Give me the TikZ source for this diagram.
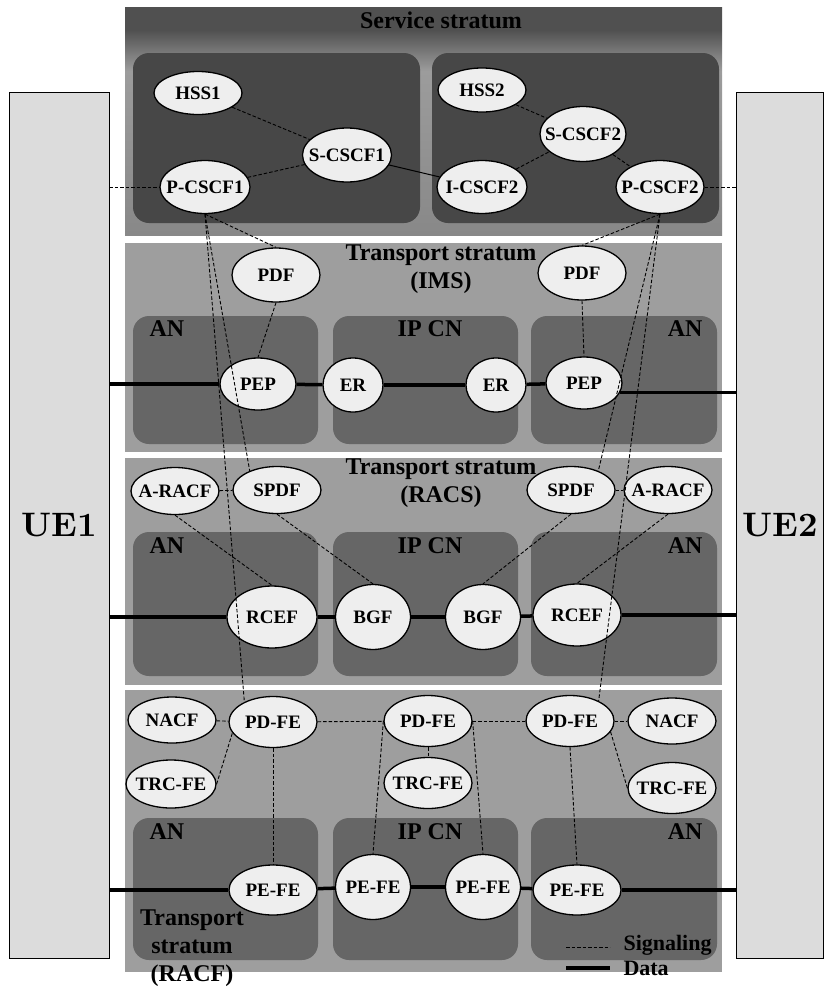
\documentclass[tikz,border=0pt]{standalone}
\usepackage{fontspec}
\setmainfont{Liberation Serif}
\newfontfamily\uefont{lmroman10-bold.otf}
\usetikzlibrary{shapes.geometric,positioning}
\definecolor{svctop}{RGB}{80,80,80}
\definecolor{svclight}{RGB}{156,156,156}
\definecolor{svcbot}{RGB}{136,136,136}
\definecolor{svcbox}{RGB}{71,71,71}
\definecolor{trpanel}{RGB}{158,158,158}
\definecolor{trbox}{RGB}{102,102,102}
\definecolor{fefill}{RGB}{238,238,238}
\definecolor{uefill}{RGB}{220,220,220}
\pgfdeclareverticalshading{svcshade}{100bp}{color(0bp)=(svcbot); color(25bp)=(svcbot); color(61bp)=(svclight); color(70bp)=(svctop); color(100bp)=(svctop)}

\begin{document}
\begin{tikzpicture}[x=1pt, y=-1pt,
  fe/.style={ellipse, draw=black, line width=1.3pt, fill=fefill, inner sep=-15pt,
    minimum width=88pt, minimum height=50pt, font=\fontsize{19}{21}\selectfont\bfseries},
  ue/.style={rectangle, draw=black, line width=0.8pt, fill=uefill, minimum width=100pt,
    minimum height=866pt, font=\fontsize{34}{36}\selectfont\uefont},
  inbox/.style={rounded corners=16pt},
  ttl/.style={align=center, font=\fontsize{24}{28}\selectfont\bfseries},
  boxlbl/.style={font=\fontsize{24}{28}\selectfont\bfseries},
  legtxt/.style={anchor=west, font=\fontsize{22}{24}\selectfont\bfseries},
  sig/.style={dash pattern=on 3.5pt off 2pt, line width=0.9pt},
  data/.style={line width=3.5pt},
  ctrl/.style={line width=1pt}]
\useasboundingbox (0,0) rectangle (830,988);

% strata
\shade[shading=svcshade] (125,7) rectangle (722,235);
\fill[svcbox, inbox] (133,53) rectangle (420,223);
\fill[svcbox, inbox] (432,53) rectangle (719,223);
\foreach \ptop/\pbot/\btop/\bbot in {243/452/316/444, 458/685/532/676, 690/972/818/960} {
  \fill[trpanel] (125,\ptop) rectangle (722,\pbot);
  \foreach \l/\r in {133/318, 333/518, 531/717}
    \fill[trbox, inbox] (\l,\btop) rectangle (\r,\bbot);
}

% titles and labels
\node[ttl] (svcttl) at (441,20) {Service stratum};
\node[ttl] (imsttl) at (441,269) {Transport stratum\\(IMS)};
\node[ttl] (racsttl) at (441,483) {Transport stratum\\(RACS)};
\node[ttl] (racfttl) at (192,948) {Transport\\stratum\\(RACF)};
\node[boxlbl, anchor=west] (anla) at (146,329) {AN};
\node[boxlbl] (ipcna) at (430,329) {IP CN};
\node[boxlbl, anchor=east] (anra) at (706,329) {AN};
\node[boxlbl, anchor=west] (anlb) at (146,546) {AN};
\node[boxlbl] (ipcnb) at (430,546) {IP CN};
\node[boxlbl, anchor=east] (anrb) at (706,546) {AN};
\node[boxlbl, anchor=west] (anlc) at (146,832) {AN};
\node[boxlbl] (ipcnc) at (430,832) {IP CN};
\node[boxlbl, anchor=east] (anrc) at (706,832) {AN};

% user equipment
\node[ue] (uea) at (59,525) {UE1};
\node[ue, minimum width=87pt] (ueb) at (780,525) {UE2};

% service stratum
\node[fe, minimum height=43pt] (hssa) at (198,93) {HSS1};
\node[fe, minimum width=89pt, minimum height=54pt] (scscfa) at (347,155) {S-CSCF1};
\node[fe, minimum width=90pt, minimum height=53pt] (pcscfa) at (205,187) {P-CSCF1};
\node[fe, minimum height=44pt] (hssb) at (482,90) {HSS2};
\node[fe, minimum width=86pt, minimum height=55pt] (scscfb) at (583,134) {S-CSCF2};
\node[fe, minimum width=90pt, minimum height=53pt] (icscfb) at (482,187) {I-CSCF2};
\node[fe, minimum width=88pt, minimum height=53pt] (pcscfb) at (660,187) {P-CSCF2};

% IMS
\node[fe, minimum height=54pt] (pdfa) at (276,275) {PDF};
\node[fe, minimum height=54pt] (pdfb) at (582,273) {PDF};
\node[fe, minimum width=76pt, minimum height=52pt] (pepa) at (258,384) {PEP};
\node[fe, minimum width=60pt, minimum height=54pt] (era) at (353,385) {ER};
\node[fe, minimum width=60pt, minimum height=54pt] (erb) at (496,385) {ER};
\node[fe, minimum width=76pt, minimum height=52pt] (pepb) at (584,383) {PEP};

% RACS
\node[fe, minimum height=47pt] (racfa) at (175,491) {A-RACF};
\node[fe, minimum height=47pt] (spdfa) at (277,490) {SPDF};
\node[fe, minimum height=47pt] (spdfb) at (571,490) {SPDF};
\node[fe, minimum height=47pt] (racfb) at (668,490) {A-RACF};
\node[fe, minimum width=90pt, minimum height=62pt] (rcefa) at (272,617) {RCEF};
\node[fe, minimum width=75pt, minimum height=65pt] (bgfa) at (373,617) {BGF};
\node[fe, minimum width=75pt, minimum height=65pt] (bgfb) at (483,617) {BGF};
\node[fe, minimum width=88pt, minimum height=62pt] (rcefb) at (577,615) {RCEF};

% RACF
\node[fe, minimum height=46pt] (nacfa) at (172,720) {NACF};
\node[fe, minimum height=51pt] (pdfea) at (273,722) {PD-FE};
\node[fe, minimum height=51pt] (pdfeb) at (428,721) {PD-FE};
\node[fe, minimum height=51pt] (pdfec) at (570,721) {PD-FE};
\node[fe, minimum height=46pt] (nacfb) at (672,721) {NACF};
\node[fe, minimum width=90pt, minimum height=48pt] (trcfea) at (171,784) {TRC-FE};
\node[fe, minimum height=51pt] (trcfeb) at (428,783) {TRC-FE};
\node[fe, minimum height=51pt] (trcfec) at (672,788) {TRC-FE};
\node[fe, minimum height=50pt] (pefea) at (273,890) {PE-FE};
\node[fe, minimum width=75pt, minimum height=65pt] (pefeb) at (373,887) {PE-FE};
\node[fe, minimum width=75pt, minimum height=65pt] (pefec) at (483,887) {PE-FE};
\node[fe, minimum height=50pt] (pefed) at (577,890) {PE-FE};

% legend
\node[legtxt] (sigtxt) at (620,945) {Signaling};
\node[legtxt] (datatxt) at (620,968) {Data};
\coordinate (siga) at (566,947);
\coordinate (sigb) at (610,947);
\coordinate (dataa) at (566,968);
\coordinate (datab) at (610,968);
\draw[sig] (siga) -- (sigb);
\draw[data] (dataa) -- (datab);

% signaling
\draw[sig] (uea.east |- pcscfa) -- (pcscfa);
\draw[sig] (pcscfb) -- (pcscfb -| ueb.west);
\draw[sig] (hssa) -- (scscfa);
\draw[sig] (pcscfa) -- (scscfa);
\draw[ctrl] (scscfa) -- (icscfb);
\draw[sig] (hssb) -- (scscfb);
\draw[sig] (icscfb) -- (scscfb);
\draw[sig] (scscfb) -- (pcscfb);
\draw[sig] (pcscfa.south) -- (pdfa.north);
\draw[sig] (pcscfb.south) -- (pdfb.north);
\draw[sig] (pdfa.south) -- (pepa.north);
\draw[sig] (pdfb.south) -- (pepb.north);
\draw[sig] (racfa) -- (spdfa);
\draw[sig] (racfa.south) -- (rcefa.north);
\draw[sig] (spdfa.south) -- (bgfa.north);
\draw[sig] (spdfb.south) -- (bgfb.north);
\draw[sig] (spdfb) -- (racfb);
\draw[sig] (racfb.south) -- (rcefb.north);
\draw[sig] (nacfa) -- (pdfea);
\draw[sig] (trcfea.east) -- (pdfea.195);
\draw[sig] (pdfea) -- (pdfeb);
\draw[sig] (pdfeb) -- (pdfec);
\draw[sig] (pdfec) -- (nacfb);
\draw[sig] (pdfec.-15) -- (trcfec.west);
\draw[sig] (pdfeb) -- (trcfeb);
\draw[sig] (pdfea.south) -- (pefea.north);
\draw[sig] (pdfeb.west) -- (pefeb.north);
\draw[sig] (pdfeb.east) -- (pefec.north);
\draw[sig] (pdfec.south) -- (pefed.north);
\draw[sig] (pcscfa.south) -- (spdfa.145);
\draw[sig] (pcscfa.south) -- (pdfea.145);
\draw[sig] (pcscfb.south) -- (spdfb.35);
\draw[sig] (pcscfb.south) -- (pdfec.35);

% data
\draw[data] (uea.east |- pepa) -- (pepa);
\draw[data] (pepa) -- (era);
\draw[data] (era) -- (erb);
\draw[data] (erb) -- (pepb);
\draw[data] (pepb.-15) -- (pepb.-15 -| ueb.west);
\draw[data] (uea.east |- rcefa) -- (rcefa);
\draw[data] (rcefa) -- (bgfa);
\draw[data] (bgfa) -- (bgfb);
\draw[data] (bgfb) -- (rcefb);
\draw[data] (rcefb) -- (rcefb -| ueb.west);
\draw[data] (uea.east |- pefea) -- (pefea);
\draw[data] (pefea) -- (pefeb);
\draw[data] (pefeb) -- (pefec);
\draw[data] (pefec) -- (pefed);
\draw[data] (pefed) -- (pefed -| ueb.west);
\end{tikzpicture}
\end{document}
